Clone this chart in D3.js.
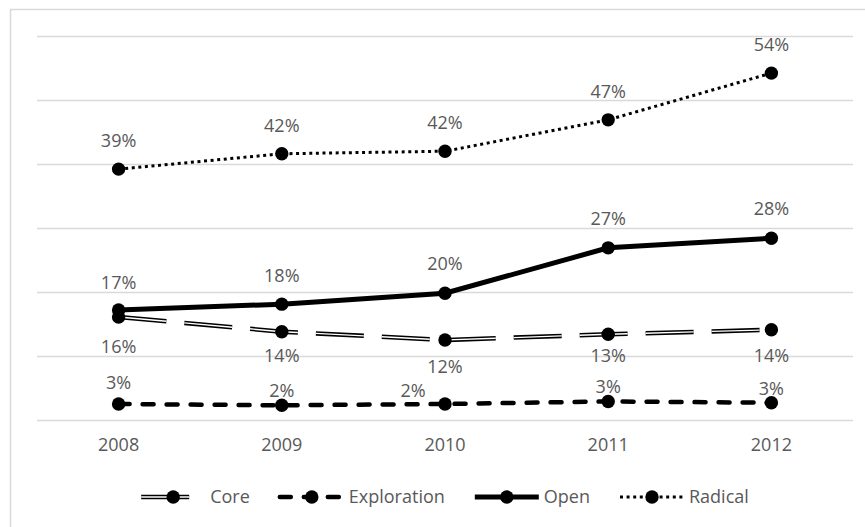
<!DOCTYPE html>
<html>
<head>
<meta charset="utf-8">
<script src="https://cdn.jsdelivr.net/npm/d3@7"></script>
<style>
  body { margin: 0; background: #fff; }
  svg text { font-family: "Open Sans", "Noto Sans", sans-serif; fill: #595959; }
</style>
</head>
<body>
<div id="chart"></div>
<script>
var years = ["2008", "2009", "2010", "2011", "2012"];
var seriesNames = ["Core", "Exploration", "Open", "Radical"];

var core = [16.1, 13.8, 12.5, 13.4, 14.1];
var exploration = [2.5, 2.3, 2.5, 2.9, 2.7];
var open = [17.2, 18.1, 19.8, 26.9, 28.4];
var radical = [39.2, 41.6, 42.0, 46.9, 54.2];

var coreLabels = ["16%", "14%", "12%", "13%", "14%"];
var explorationLabels = ["3%", "2%", "2%", "3%", "3%"];
var openLabels = ["17%", "18%", "20%", "27%", "28%"];
var radicalLabels = ["39%", "42%", "42%", "47%", "54%"];

var yTicks = [0, 10, 20, 30, 40, 50, 60];

var width = 865, height = 527;
var margin = { left: 37, right: 12, top: 36, bottom: 107 };

var svg = d3.select("#chart").append("svg")
    .attr("width", width)
    .attr("height", height);

// chart frame, runs off the right and bottom edge
svg.append("rect")
    .attr("x", 10.5).attr("y", 9.5)
    .attr("width", 900).attr("height", 600)
    .attr("fill", "none")
    .attr("stroke", "#d9d9d9")
    .attr("stroke-width", 1.5);

var x = d3.scaleBand()
    .domain(years)
    .range([margin.left, width - margin.right]);

var y = d3.scaleLinear()
    .domain([0, 60])
    .range([height - margin.bottom, margin.top]);

// gridlines
svg.append("g")
    .attr("transform", "translate(" + margin.left + ",0)")
    .call(d3.axisLeft(y).tickValues(yTicks).tickSize(-(width - margin.left - margin.right)).tickFormat(""))
    .call(function(g) {
        g.select(".domain").remove();
        g.selectAll("line").attr("stroke", "#d9d9d9").attr("stroke-width", 1.5);
    });

// category axis labels
svg.append("g")
    .attr("transform", "translate(0," + y(0) + ")")
    .call(d3.axisBottom(x).tickSize(0).tickPadding(14))
    .call(function(g) {
        g.select(".domain").remove();
        g.selectAll("text")
          .attr("font-size", "18px")
          .attr("fill", "#595959")
          .attr("font-family", "'Open Sans', sans-serif")
          .attr("dy", "0.95em");
    });

// label offsets from the point (dx, dy of the baseline), as placed in the original
var styles = {
    "Core": { values: core, labels: coreLabels, width: 4.5, dash: "48,18", cap: "butt", inner: true,
              nudge: [[0, 36], [0, 30], [0, 33], [0, 28], [0, 32]] },
    "Exploration": { values: exploration, labels: explorationLabels, width: 4.5, dash: "11,13", cap: "round",
              nudge: [[0, -15], [0, -8], [-32, -7], [0, -8], [0, -8]] },
    "Open": { values: open, labels: openLabels, width: 5, dash: null, cap: "butt",
              nudge: [[0, -21], [0, -22], [0, -23], [0, -23], [0, -23]] },
    "Radical": { values: radical, labels: radicalLabels, width: 3, dash: "3,3.6", cap: "butt",
              nudge: [[0, -22], [0, -22], [0, -22], [0, -22], [0, -22]] }
};

var line = d3.line()
    .x(function(d, i) { return x(years[i]) + x.bandwidth() / 2; })
    .y(function(d) { return y(d); });

function drawStroke(g, path, s) {
    g.append("path")
        .attr("d", path)
        .attr("fill", "none")
        .attr("stroke", "#000")
        .attr("stroke-width", s.width)
        .attr("stroke-linecap", s.cap)
        .attr("stroke-dasharray", s.dash);
    if (s.inner) {
        g.append("path")
            .attr("d", path)
            .attr("fill", "none")
            .attr("stroke", "#fff")
            .attr("stroke-width", 1.4)
            .attr("stroke-dasharray", s.dash);
    }
}

seriesNames.forEach(function(name) {
    var s = styles[name];
    var g = svg.append("g").attr("class", "series");
    drawStroke(g, line(s.values), s);
    g.selectAll("circle")
        .data(s.values)
        .enter().append("circle")
        .attr("cx", function(d, i) { return x(years[i]) + x.bandwidth() / 2; })
        .attr("cy", function(d) { return y(d); })
        .attr("r", 6.7)
        .attr("fill", "#000");
});

seriesNames.forEach(function(name) {
    var s = styles[name];
    svg.append("g").selectAll("text")
        .data(s.values)
        .enter().append("text")
        .attr("x", function(d, i) { return x(years[i]) + x.bandwidth() / 2 + s.nudge[i][0]; })
        .attr("y", function(d, i) { return y(d) + s.nudge[i][1]; })
        .attr("text-anchor", "middle")
        .attr("font-size", "18px")
        .text(function(d, i) { return s.labels[i]; });
});

// legend
var legend = svg.append("g");
var symW = 64, gap = 5, itemGap = 30, legendY = 497;
var items = seriesNames.map(function(name) {
    var it = legend.append("g");
    var t = it.append("text")
        .attr("x", symW + gap)
        .attr("y", legendY + 6)
        .attr("font-size", "18px")
        .text(name);
    return { name: name, g: it, w: symW + gap + t.node().getComputedTextLength() };
});
var total = d3.sum(items, function(d) { return d.w; }) + itemGap * (items.length - 1);
var startX = (margin.left + width - margin.right) / 2 - total / 2;
items.forEach(function(it) {
    var s = styles[it.name];
    it.g.attr("transform", "translate(" + startX + ",0)");
    drawStroke(it.g, "M0," + legendY + "H" + symW, s);
    it.g.append("circle")
        .attr("cx", symW / 2)
        .attr("cy", legendY)
        .attr("r", 6.7)
        .attr("fill", "#000");
    startX += it.w + itemGap;
});
</script>
</body>
</html>
